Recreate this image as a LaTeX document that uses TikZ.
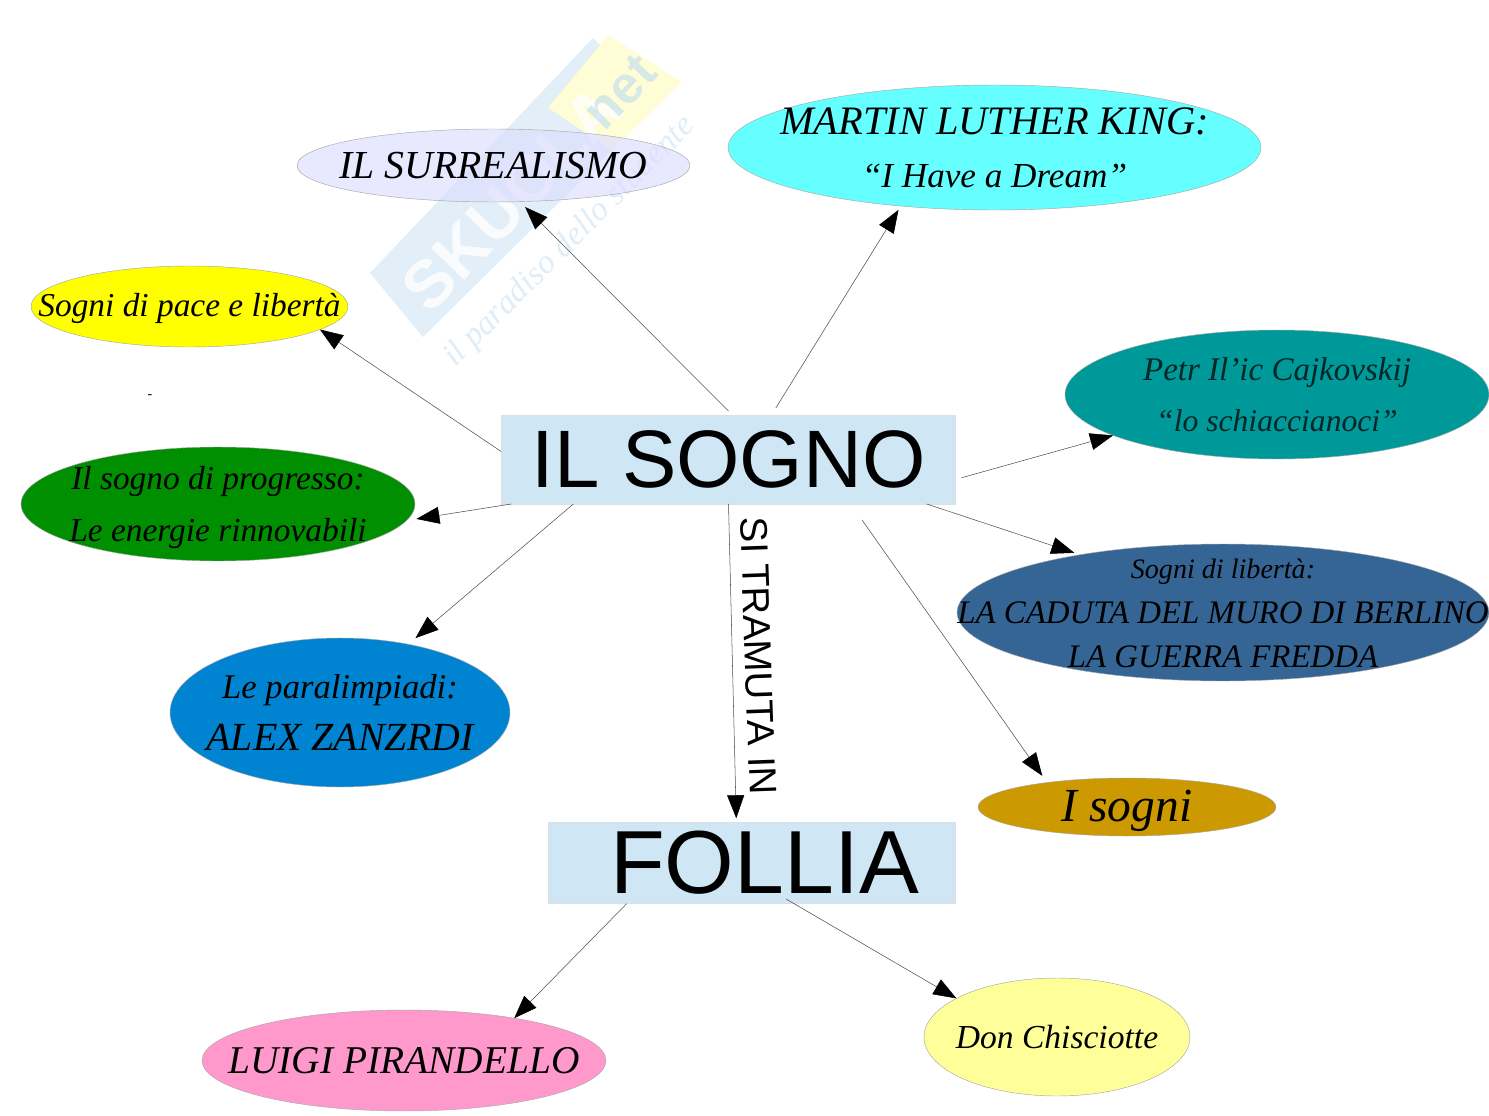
\documentclass[tikz,border=0pt]{standalone}
\usepackage{fontspec}
\setmainfont{Liberation Serif}
\setsansfont{Liberation Sans}
\usetikzlibrary{shapes.geometric, arrows.meta, calc}
\definecolor{titlebox}{RGB}{207,231,245}
\definecolor{lavender}{RGB}{222,222,255}
\definecolor{cyanbub}{RGB}{102,255,255}
\definecolor{yellowbub}{RGB}{255,255,0}
\definecolor{tealbub}{RGB}{0,153,153}
\definecolor{greenbub}{RGB}{0,143,0}
\definecolor{bluebub}{RGB}{0,132,209}
\definecolor{steelbub}{RGB}{52,101,148}
\definecolor{goldbub}{RGB}{204,153,0}
\definecolor{pinkbub}{RGB}{255,153,204}
\definecolor{creambub}{RGB}{255,255,153}
\definecolor{markblue}{RGB}{190,220,240}
\tikzset{
  titlenode/.style={rectangle, fill=titlebox, draw=gray!25, line width=0.3pt, inner sep=0pt, outer sep=0pt},
  bubble/.style={ellipse, draw=gray!70, line width=0.25pt, inner sep=0pt, outer sep=0pt},
  bubtext/.style 2 args={align=center, inner sep=0pt, font=\itshape\fontsize{#1}{#2}\selectfont},
  link/.style={-{Triangle[length=0.46cm,width=0.34cm,color=black,fill=black]}, line width=0.3pt, black!70}
}
\begin{document}
\begin{tikzpicture}[x=0.02cm, y=-0.02cm]
        \useasboundingbox (0,0) rectangle (1489,1116);
        % Watermark
        \fill[markblue, opacity=0.45] (370,273) -- (593,38) -- (600,45) -- (548,108) -- (612,150) -- (423,337) -- cycle;
        \fill[yellow!55, opacity=0.3] (608,35) -- (682,82) -- (612,150) -- (548,108) -- cycle;
        \node[rotate=46, font=\sffamily\bfseries\fontsize{38}{38}\selectfont, text=white, opacity=0.8] (marksk) at (512,198) {SKUOLA};
        \node[rotate=46, font=\sffamily\bfseries\fontsize{30}{30}\selectfont, text=markblue, opacity=0.6] (marknet) at (620,92) {net};
        \node[rotate=45, font=\itshape\fontsize{19}{19}\selectfont, text=markblue, opacity=0.5] (markline) at (570,242) {il paradiso dello studente};
        % Title boxes
        \node[titlenode, font=\sffamily\fontsize{46.4}{47}\selectfont, minimum width=9.09cm, minimum height=1.78cm] (sogno) at (728.5,459.5) {IL SOGNO};
        \node[titlenode, font=\sffamily\fontsize{51}{51}\selectfont, minimum width=8.15cm, minimum height=1.63cm] (follia) at (752,863) {\hspace*{0.5cm}FOLLIA};
        % Bubbles
        \node[bubble, fill=lavender, fill opacity=0.7, minimum width=7.86cm, minimum height=1.46cm,
          label={[bubtext={22.6}{28}]center:IL SURREALISMO}] (surrealismo) at (493.5,165.5) {};
        \node[bubble, fill=cyanbub, minimum width=10.66cm, minimum height=2.5cm,
          label={[bubtext={23}{30}]center:MARTIN LUTHER KING:\\{\fontsize{20}{30}\selectfont ``I Have a Dream''}}] (king) at (994.5,147.5) {};
        \node[bubble, fill=yellowbub, minimum width=6.34cm, minimum height=1.62cm,
          label={[bubtext={19}{30}, yshift=-0.04cm]center:Sogni di pace e libertà}] (pace) at (189.5,306.5) {};
        \node[bubble, fill=tealbub, minimum width=8.48cm, minimum height=2.58cm,
          label={[bubtext={18.8}{29}, text=black!75!tealbub]center:Petr Il’ic Cajkovskij\\{\fontsize{18}{29}\selectfont ``lo schiaccianoci''}}] (petr) at (1277,394.5) {};
        \node[bubble, fill=greenbub, minimum width=7.88cm, minimum height=2.28cm,
          label={[bubtext={19}{30}, yshift=-0.07cm]center:Il sogno di progresso:\\Le energie rinnovabili}] (progresso) at (218,504) {};
        \node[bubble, fill=bluebub, minimum width=6.8cm, minimum height=2.98cm,
          label={[bubtext={22.7}{30}]center:{\fontsize{19.7}{30}\selectfont Le paralimpiadi:}\\ALEX ZANZRDI}] (paralimpiadi) at (340,712.5) {};
        \node[bubble, fill=steelbub, minimum width=10.64cm, minimum height=2.74cm,
          label={[bubtext={18.7}{25.5}, yshift=-0.02cm]center:{\fontsize{16}{25.5}\selectfont Sogni di libertà:}\\LA CADUTA DEL MURO DI BERLINO\\LA GUERRA FREDDA}] (muro) at (1223,612.5) {};
        \node[bubble, fill=goldbub, minimum width=5.96cm, minimum height=1.16cm,
          label={[bubtext={27}{30}, yshift=-0.08cm]center:I sogni}] (isogni) at (1127,807) {};
        \node[bubble, fill=pinkbub, minimum width=8.08cm, minimum height=2.02cm,
          label={[bubtext={22.4}{28}]center:LUIGI PIRANDELLO}] (pirandello) at (404,1060.5) {};
        \node[bubble, fill=creambub, minimum width=5.32cm, minimum height=2.36cm,
          label={[bubtext={19.1}{30}]center:Don Chisciotte}] (chisciotte) at (1057,1037) {};
        % Stray dash
        \node[font=\footnotesize] (dash) at (150,397) {-};
        % Links
        \draw[link, shorten <=0.11cm, shorten >=0.15cm] (sogno.85.5) -- (surrealismo.-54.1);
        \draw[link, shorten <=0.166cm, shorten >=0.09cm] (sogno.46.6) -- (king.212.5);
        \draw[link] (sogno.178.1) -- (pace.-10.6);
        \draw[link, shorten >=0.2cm] ($(sogno.south west)+(10,0)$) -- (progresso.-5.7);
        \draw[link, shorten >=0.19cm] (sogno.196.1) -- (paralimpiadi.45.3);
        \draw[link, shorten <=0.124cm] (sogno.-5.05) -- (petr.194.5);
        \draw[link, shorten >=0.12cm] ($(sogno.south east)+(-29,0)$) -- (muro.158.2);
        \draw[link, shorten <=0.39cm, shorten >=0.164cm] (sogno.-20) -- (isogni.163.4);
        \draw[link, shorten >=0.08cm] (sogno.south) -- (follia.111.2);
        \draw[link] (follia.198.2) -- (pirandello.21.3);
        \draw[link, shorten <=-0.19cm] (follia.-44) -- (chisciotte.159.2);
        % Link label
        \node[rotate=-88, font=\sffamily\fontsize{21.8}{22}\selectfont] (tramuta) at (758.5,656) {SI TRAMUTA IN};
\end{tikzpicture}
\end{document}
